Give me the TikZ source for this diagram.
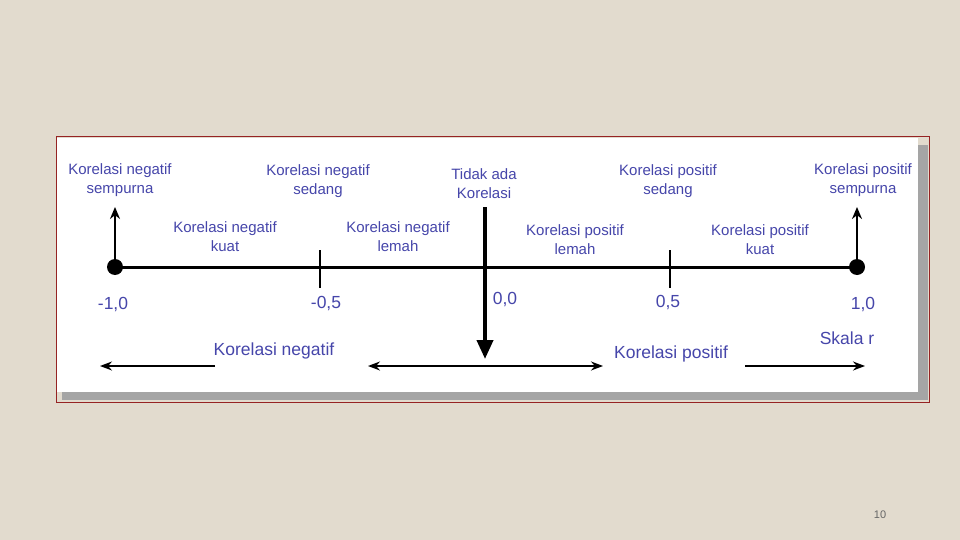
\documentclass[tikz,border=0pt]{standalone}
\usepackage{fontspec}
\setmainfont{Liberation Sans}
\usetikzlibrary{arrows.meta, positioning}

\definecolor{paper}{RGB}{226,219,206}
\definecolor{frameRed}{RGB}{150,35,35}
\definecolor{shadeGray}{RGB}{165,165,165}
\definecolor{labelBlue}{RGB}{70,70,170}

\begin{document}
\begin{tikzpicture}[
    x=1pt, y=-1pt,
    lbl/.style={text=labelBlue, font=\fontsize{15}{19}\selectfont, align=center, inner sep=0pt},
    bigLbl/.style={lbl, font=\fontsize{17.5}{21}\selectfont},
    dot/.style={circle, fill=black, minimum size=16pt, inner sep=0pt},
    axis/.style={line width=3pt},
    tick/.style={line width=2pt},
    uparrow/.style={-{Stealth[length=12pt, width=10pt]}, line width=2pt},
    zeroarrow/.style={-{Triangle[length=19pt, width=16pt]}, line width=4pt},
    spanarrow/.style={-{Stealth[length=12pt, width=9pt]}, line width=1.5pt}
]

% Background and panel
\fill[paper] (0,0) rectangle (960,540);
\useasboundingbox (0,0) rectangle (960,540);
\fill[shadeGray] (62,145) rectangle (928,400);
\fill[white] (57,138) rectangle (918,392);
\draw[frameRed, line width=1pt] (56,137) rectangle (929,402);

% Axis
\node[dot] (dotNeg) at (115,267) {};
\node[dot] (dotPos) at (857,267) {};
\draw[axis] (dotNeg.center) -- (dotPos.center);

% Ticks
\coordinate (tickNegTop) at (320,250);
\coordinate (tickNegBot) at (320,288);
\coordinate (tickPosTop) at (670,250);
\coordinate (tickPosBot) at (670,288);
\draw[tick] (tickNegTop) -- (tickNegBot);
\draw[tick] (tickPosTop) -- (tickPosBot);

% Perfect correlation arrows
\coordinate (upNeg) at (115,207);
\coordinate (upPos) at (857,207);
\draw[uparrow] (dotNeg.center) -- (upNeg);
\draw[uparrow] (dotPos.center) -- (upPos);

% No correlation arrow
\coordinate (zeroTop) at (485,207);
\coordinate (zeroTip) at (485,359);
\draw[zeroarrow] (zeroTop) -- (zeroTip);

% Upper labels
\node[lbl] (negPerfect) at (120,180) {Korelasi negatif\\sempurna};
\node[lbl] (negMid) at (318,181) {Korelasi negatif\\sedang};
\node[lbl] (noCorr) at (484,184) {Tidak ada\\Korelasi};
\node[lbl] (posMid) at (668,181) {Korelasi positif\\sedang};
\node[lbl] (posPerfect) at (863,180) {Korelasi positif\\sempurna};

% Lower labels
\node[lbl] (negStrong) at (225,237) {Korelasi negatif\\kuat};
\node[lbl] (negWeak) at (398,237) {Korelasi negatif\\lemah};
\node[lbl] (posWeak) at (575,240) {Korelasi positif\\lemah};
\node[lbl] (posStrong) at (760,240) {Korelasi positif\\kuat};

% Scale values
\node[bigLbl] (valNegOne) at (113,305) {-1,0};
\node[bigLbl] (valNegHalf) at (326,304) {-0,5};
\node[bigLbl] (valZero) at (505,300) {0,0};
\node[bigLbl] (valPosHalf) at (668,303) {0,5};
\node[bigLbl] (valPosOne) at (863,305) {1,0};
\node[bigLbl] (scale) at (847,338) {Skala r};

% Direction arrows
\node[bigLbl] (negSide) at (274,351) {Korelasi negatif};
\node[bigLbl] (posSide) at (671,354) {Korelasi positif};
\coordinate (negLeftEnd) at (100,366);
\coordinate (negLeftStart) at (215,366);
\coordinate (midLeft) at (368,366);
\coordinate (midRight) at (603,366);
\coordinate (posRightStart) at (745,366);
\coordinate (posRightEnd) at (865,366);
\draw[spanarrow] (negLeftStart) -- (negLeftEnd);
\draw[spanarrow, {Stealth[length=12pt, width=9pt]}-{Stealth[length=12pt, width=9pt]}] (midLeft) -- (midRight);
\draw[spanarrow] (posRightStart) -- (posRightEnd);

% Page number
\node[text=gray!80!black, font=\fontsize{11}{13}\selectfont] (pageNo) at (880,515) {10};

\end{tikzpicture}
\end{document}
